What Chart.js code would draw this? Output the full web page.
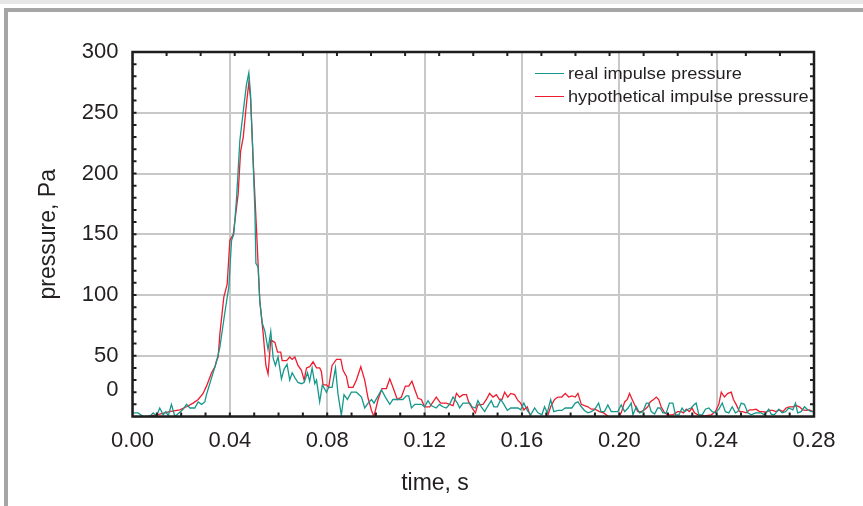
<!DOCTYPE html>
<html>
<head>
<meta charset="utf-8">
<script src="https://cdn.jsdelivr.net/npm/chart.js@4.4.1/dist/chart.umd.min.js"></script>
<style>
  html, body { margin: 0; padding: 0; background: #ffffff; }
  #wrap { position: relative; width: 863px; height: 506px; }
  #legend { position: absolute; left: 535px; top: 62px; font-family: "Liberation Sans", Arial, sans-serif; font-size: 17px; color: #231f20; }
  #legend .row { height: 23px; line-height: 23px; white-space: nowrap; display: flex; align-items: center; }
  #legend .swatch { display: inline-block; width: 29px; height: 0; border-top: 1.5px solid; margin-right: 4px; }
  #legend .lbl { display: inline-block; transform: scaleX(1.07); transform-origin: left center; }
</style>
</head>
<body>
<div id="wrap">
  <canvas id="c" width="863" height="506"></canvas>
  <div id="legend"></div>
</div>
<script>
// ---- data (time in seconds, pressure in Pa) ----
const realTime = [0,0.0023,0.0044,0.0071,0.0085,0.0099,0.0112,0.0126,0.0137,0.0147,0.016,0.0174,0.0192,0.0206,0.0222,0.0236,0.0256,0.027,0.0284,0.0297,0.0304,0.0325,0.0345,0.0359,0.0379,0.0396,0.0407,0.0416,0.0427,0.0441,0.0455,0.0468,0.0478,0.0485,0.0493,0.0503,0.0507,0.0516,0.0523,0.0533,0.0544,0.0557,0.0568,0.0578,0.0587,0.0598,0.0612,0.0623,0.0635,0.0646,0.0656,0.0667,0.068,0.0694,0.0705,0.0719,0.0728,0.0738,0.0749,0.0756,0.0769,0.078,0.0797,0.0806,0.082,0.0834,0.0844,0.0858,0.0869,0.0883,0.0899,0.092,0.0941,0.0954,0.0968,0.0982,0.0992,0.1006,0.1023,0.1039,0.1057,0.107,0.1091,0.1111,0.1125,0.1135,0.1146,0.116,0.1187,0.12,0.1214,0.1227,0.1248,0.1261,0.1275,0.1289,0.1303,0.1317,0.1335,0.1344,0.1358,0.1372,0.1386,0.1395,0.1409,0.1419,0.1433,0.1447,0.1458,0.1474,0.1485,0.1499,0.1513,0.1526,0.154,0.1554,0.157,0.1584,0.1595,0.1608,0.1622,0.1636,0.1652,0.1666,0.1682,0.1693,0.1704,0.1718,0.1731,0.1748,0.1764,0.1778,0.1792,0.1805,0.1819,0.183,0.1844,0.1857,0.1871,0.1885,0.1898,0.1915,0.1925,0.1939,0.1953,0.1967,0.198,0.1994,0.2008,0.2022,0.2036,0.2049,0.2056,0.207,0.2083,0.2097,0.2111,0.2121,0.2131,0.2145,0.2158,0.2168,0.2179,0.2193,0.2206,0.222,0.2231,0.2245,0.2258,0.2268,0.2282,0.2295,0.2309,0.2316,0.2327,0.2341,0.2354,0.2368,0.2382,0.2395,0.2409,0.2423,0.2436,0.245,0.2464,0.2477,0.2487,0.2501,0.2514,0.2528,0.2542,0.256,0.2573,0.2583,0.2596,0.2614,0.2624,0.2637,0.2655,0.2669,0.2683,0.2696,0.2713,0.2724,0.2733,0.2747,0.2761,0.2774,0.2788,0.28];
const realPressure = [3,3,0,0,3,0.5,7,1.4,4,0.5,10,0,3,5.5,10,7,7,12,10,12,18,32,45,57,85,107,145,150,178,227,251,273,283,265,224,169,126,123,95,77,70,55,70,48,42,49,31,39,43,30,36,32,28,27,28,36,29,40,27,30,12,26,20,24,24,40,19,1,18,14,20,20,16,7,11,14,11,16,22,16,10,14,14,14,17,17,7,10,10,8,13,9,7,10,8,7,10,16,11,7,11,11,11,8,7,13,8,4,8,13,8,8,14,10,5,7,7,7,5.5,11,5,1.4,7,3,1.4,8,3,14,4,5,5,7,7,7,11,12,8,5,3,4,5.5,11,4,4,9.6,4,4,4,9.6,4,7,11,1.4,8,3,4,11,11,4,2,7,7,3,3,11,11,1.4,1.4,7,4,6,7,10,11,1.4,1.4,6,7,4,3,6,11,4,3,8,3,4,11,10,3,1.4,3,3,3,1.4,6,2,1.4,6,3,4,7,5.5,11,3,4,8,5.5,4,4];

const hypoTime = [0.0064,0.0112,0.0153,0.0194,0.0222,0.0249,0.027,0.029,0.0304,0.0325,0.0339,0.0345,0.0352,0.0359,0.0375,0.0389,0.04,0.0414,0.0434,0.0444,0.0455,0.0468,0.0478,0.0485,0.0496,0.0509,0.0523,0.0537,0.0548,0.0557,0.0568,0.0585,0.0596,0.0609,0.0615,0.0633,0.0646,0.0656,0.0667,0.068,0.0694,0.0705,0.0715,0.0728,0.0742,0.0756,0.0769,0.0776,0.0783,0.0797,0.0806,0.082,0.0838,0.0856,0.0865,0.0879,0.0888,0.0906,0.092,0.0938,0.0954,0.0968,0.0982,0.0992,0.1009,0.1025,0.1043,0.1057,0.107,0.1088,0.1105,0.1121,0.1135,0.1148,0.1162,0.1173,0.1187,0.12,0.1221,0.1248,0.1266,0.1289,0.1303,0.1317,0.1331,0.1344,0.1358,0.1372,0.1381,0.1395,0.1409,0.1419,0.144,0.1454,0.1467,0.1481,0.1495,0.1508,0.1518,0.1529,0.1542,0.1554,0.157,0.1584,0.1595,0.1608,0.1622,0.164,0.166,0.168,0.17,0.1718,0.1734,0.1748,0.1764,0.1778,0.1792,0.1805,0.1819,0.183,0.1844,0.1857,0.1871,0.1885,0.19,0.1919,0.1935,0.1953,0.197,0.199,0.2008,0.2022,0.2033,0.2042,0.2053,0.2063,0.2076,0.209,0.2104,0.2117,0.2127,0.2141,0.2152,0.2162,0.2172,0.2186,0.2199,0.222,0.224,0.2254,0.2264,0.2275,0.2288,0.2299,0.2309,0.2323,0.235,0.2378,0.2395,0.2409,0.2419,0.2432,0.2446,0.246,0.2469,0.248,0.2494,0.2507,0.2521,0.2535,0.2548,0.2562,0.2576,0.2589,0.2603,0.2617,0.263,0.2644,0.2658,0.2672,0.2685,0.2699,0.2713,0.2726,0.274,0.2754,0.2768,0.2782,0.2795];
const hypoPressure = [0,2,4,5.5,8,11,14,19,25,36,41,46,49,68,98,109,145,150,183,218,230,257,275,262,210,156,95,68,42,35,63,61,53,53,46,46,49,47,49,42,38,30,40,41,45,40,40,37,26,26,24,42,47,47,38,33,24,24,30,41,30,15,5,0,14,23,23,31,24,14,16,25,25,29,21,15,14,8,8,16,11,11,10,9,19,16,18,18,12,7,3,9.6,10,14,19,16,18,14,14,20,16,19,18,13,11,5.5,8,-3,-3,-3,-3,8,14,16,16,19,16,17,16,19,10,9,8,6,6,4,3,0.5,-3,-3,3,12,14,19,14,9.6,4,4,5.5,8,12,14,16,14,8,3,1.4,1.4,4,4,3,6,4,7,3,1.4,0.5,1.4,4,10,20,16,19,20,14,10,4,4,3,5.5,5.5,6,4,4,3.5,5,5,4,5.5,4,7,8,8,9,8,5.5,5,5.5,4];

const xTickValues = [0, 0.04, 0.08, 0.12, 0.16, 0.20, 0.24, 0.28];
const yTickValues = [0, 50, 100, 150, 200, 250, 300];
const seriesNames = ['real impulse pressure', 'hypothetical impulse pressure'];
const seriesColors = ['#16978b', '#ee1c2e'];

const FONT = '"Liberation Sans", Arial, sans-serif';
const TEXT = '#231f20';

const decorPlugin = {
  id: 'decor',
  beforeDraw(chart) {
    const c = chart.ctx;
    c.save();
    c.fillStyle = '#ffffff';
    c.fillRect(0, 0, chart.width, chart.height);
    c.fillStyle = '#e6e6e6';
    c.fillRect(0, 0, chart.width, 4);
    c.fillStyle = '#a6a6a6';
    c.fillRect(4, 8, chart.width - 4, 4);
    c.fillRect(4, 8, 4, chart.height - 8);
    c.restore();
  },
  afterDatasetsDraw(chart) {
    const c = chart.ctx;
    const a = chart.chartArea;
    const xs = chart.scales.x, ys = chart.scales.y;
    c.save();
    c.strokeStyle = '#1e1e1e';
    c.lineWidth = 2.5;
    c.strokeRect(a.left, a.top, a.right - a.left, a.bottom - a.top);
    c.lineWidth = 2;
    c.beginPath();
    for (let i = 1; i < 28; i++) {
      const px = xs.getPixelForValue(i * 0.01);
      c.moveTo(px, a.bottom); c.lineTo(px, a.bottom - 4);
    }
    for (let i = 1; i < 20; i++) {
      const px = xs.getPixelForValue(i * 0.014);
      c.moveTo(px, a.top); c.lineTo(px, a.top + 4);
    }
    for (let i = 1; i < 30; i++) {
      const py = ys.getPixelForValue(i * 10);
      c.moveTo(a.left, py); c.lineTo(a.left + 4, py);
      c.moveTo(a.right, py); c.lineTo(a.right - 4, py);
    }
    c.stroke();
    c.restore();
  },
  afterDraw(chart) {
    const c = chart.ctx;
    const a = chart.chartArea;
    const ys = chart.scales.y;
    c.save();
    c.fillStyle = TEXT;
    c.font = '22px ' + FONT;
    c.textAlign = 'right';
    c.textBaseline = 'middle';
    c.fillText('0', a.left - 14, ys.getPixelForValue(21.5));
    c.font = '23px ' + FONT;
    c.textAlign = 'center';
    c.fillText('time, s', 435, 484);
    c.restore();
  }
};

const chart = new Chart(document.getElementById('c'), {
  type: 'line',
  data: {
    datasets: [
      {
        label: seriesNames[0],
        data: realTime.map((t, i) => ({ x: t, y: realPressure[i] })),
        borderColor: seriesColors[0],
        borderWidth: 1.3,
        pointRadius: 0,
        tension: 0,
        fill: false
      },
      {
        label: seriesNames[1],
        data: hypoTime.map((t, i) => ({ x: t, y: hypoPressure[i] })),
        borderColor: seriesColors[1],
        borderWidth: 1.3,
        pointRadius: 0,
        tension: 0,
        fill: false
      }
    ]
  },
  options: {
    responsive: false,
    animation: false,
    events: [],
    layout: { padding: { left: 0, top: 52, right: 49, bottom: 0 } },
    plugins: { legend: { display: false }, tooltip: { enabled: false } },
    scales: {
      x: {
        type: 'linear',
        min: 0,
        max: 0.28,
        afterBuildTicks: (s) => { s.ticks = xTickValues.map(v => ({ value: v })); },
        ticks: {
          callback: (v) => Number(v).toFixed(2),
          font: { size: 22, family: FONT },
          color: TEXT,
          padding: 11,
          maxRotation: 0,
          autoSkip: false
        },
        grid: { color: '#c8c8c8', lineWidth: 2, drawTicks: false },
        border: { display: false },
        afterFit: (s) => { s.height = 89.5; }
      },
      y: {
        min: 0,
        max: 300,
        afterBuildTicks: (s) => { s.ticks = yTickValues.map(v => ({ value: v })); },
        ticks: {
          callback: (v) => (v === 0 ? '' : String(v)),
          font: { size: 22, family: FONT },
          color: TEXT,
          padding: 14,
          autoSkip: false
        },
        grid: { color: '#c8c8c8', lineWidth: 2, drawTicks: false },
        border: { display: false },
        title: {
          display: true,
          text: 'pressure, Pa',
          font: { size: 23, family: FONT },
          color: TEXT,
          padding: { top: 35, bottom: 0 }
        },
        afterFit: (s) => { s.width = 132.5; }
      }
    }
  },
  plugins: [decorPlugin]
});

// HTML legend built from the datasets
const legendEl = document.getElementById('legend');
chart.data.datasets.forEach(ds => {
  const row = document.createElement('div');
  row.className = 'row';
  const sw = document.createElement('span');
  sw.className = 'swatch';
  sw.style.borderTopColor = ds.borderColor;
  const tx = document.createElement('span');
  tx.className = 'lbl';
  tx.textContent = ds.label;
  row.appendChild(sw);
  row.appendChild(tx);
  legendEl.appendChild(row);
});
</script>
</body>
</html>
